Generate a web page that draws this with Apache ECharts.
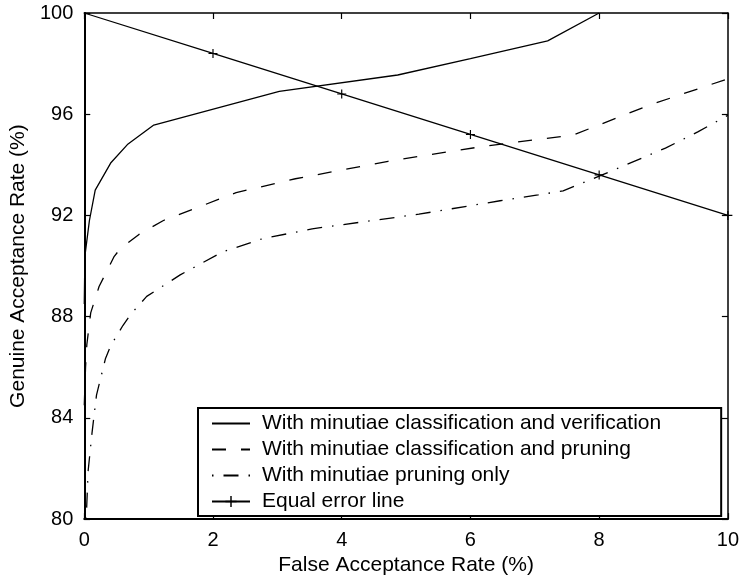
<!DOCTYPE html>
<html>
<head>
<meta charset="utf-8">
<script src="https://cdn.jsdelivr.net/npm/echarts@6/dist/echarts.min.js"></script>
<style>html,body{margin:0;padding:0;background:#fff}#c{width:742px;height:581px}</style>
</head>
<body>
<div id="c"></div>
<script>
// Data
var seriesNames = [
  'With minutiae classification and verification',
  'With minutiae classification and pruning',
  'With minutiae pruning only',
  'Equal error line'
];
var xTicks = [0, 2, 4, 6, 8, 10];
var yTicks = [80, 84, 88, 92, 96, 100];

var farVerif = [0, 0.01, 0.08, 0.17, 0.41, 0.67, 1.08, 3.03, 4.87, 6.0, 7.2, 8.0];
var garVerif = [88.5, 90.4, 91.8, 93.0, 94.07, 94.8, 95.57, 96.9, 97.55, 98.2, 98.9, 100];

var farPrune = [0, 0.02, 0.04, 0.1, 0.23, 0.46, 0.56, 0.85, 1.23, 2.36, 3.28, 4.72, 6.2, 7.6, 8.77, 10];
var garPrune = [84.5, 86.0, 86.9, 88.15, 89.19, 90.36, 90.69, 91.25, 91.8, 92.9, 93.45, 94.14, 94.73, 95.18, 96.35, 97.4];

var farOnly = [0.03, 0.06, 0.12, 0.19, 0.33, 0.41, 0.6, 0.72, 0.97, 1.49, 2.15, 2.77, 3.54, 5.2, 6.46, 7.05, 7.44, 8.0, 9.03, 9.54, 10];
var garOnly = [80.0, 81.9, 83.4, 84.9, 86.35, 86.85, 87.65, 88.09, 88.8, 89.65, 90.56, 91.08, 91.47, 92.05, 92.58, 92.81, 92.97, 93.55, 94.66, 95.31, 95.96];

var farEq = [0, 2, 4, 6, 8, 10];
var garEq = [100, 98.4, 96.8, 95.2, 93.6, 92];

function pairs(xs, ys) { return xs.map(function (x, i) { return [x, ys[i]]; }); }

var FONT = '"Liberation Sans", Arial, Helvetica, sans-serif';
var plusPath = 'path://M0,4.35H10V5.65H0Z M4.35,0H5.65V10H4.35Z';

var chart = echarts.init(document.getElementById('c'), null, { renderer: 'canvas' });

function xAxisDef(pos, showLabel, lw) {
  return {
    type: 'value', position: pos, min: xTicks[0], max: xTicks[xTicks.length - 1], interval: 2,
    axisLine: { show: true, onZero: false, lineStyle: { color: '#000', width: lw } },
    axisTick: { show: true, inside: true, length: 6, lineStyle: { color: '#000', width: 1.2 } },
    axisLabel: { show: showLabel, color: '#000', fontSize: 20, fontFamily: FONT, margin: 11 },
    splitLine: { show: false }
  };
}
function yAxisDef(pos, showLabel, lw) {
  return {
    type: 'value', position: pos, min: yTicks[0], max: yTicks[yTicks.length - 1], interval: 4,
    axisLine: { show: true, onZero: false, lineStyle: { color: '#000', width: lw } },
    axisTick: { show: true, inside: true, length: 6, lineStyle: { color: '#000', width: 1.2 } },
    axisLabel: { show: showLabel, color: '#000', fontSize: 20, fontFamily: FONT, margin: 11 },
    splitLine: { show: false }
  };
}

var xb = xAxisDef('bottom', true, 2);
xb.name = 'False Acceptance Rate (%)';
xb.nameLocation = 'middle';
xb.nameGap = 34;
xb.nameTextStyle = { color: '#000', fontSize: 21, fontFamily: FONT };
var yl = yAxisDef('left', true, 2);
yl.name = 'Genuine Acceptance Rate (%)';
yl.nameLocation = 'middle';
yl.nameGap = 43;
yl.nameTextStyle = { color: '#000', fontSize: 21, fontFamily: FONT };

var hidden = { color: 'rgba(0,0,0,0)', borderColor: 'rgba(0,0,0,0)', borderWidth: 0 };

var option = {
  animation: false,
  backgroundColor: '#fff',
  grid: { left: 80, right: 13, top: 13, bottom: 55, containLabel: false },
  xAxis: [xb, xAxisDef('top', false, 1.5)],
  yAxis: [yl, yAxisDef('right', false, 1.5)],
  legend: {
    show: true,
    orient: 'vertical',
    left: 198,
    top: 408,
    selectedMode: false,
    backgroundColor: '#fff',
    borderColor: '#000',
    borderWidth: 2,
    borderRadius: 0,
    padding: [5, 60, 4, 13],
    itemWidth: 38,
    itemHeight: 14,
    itemGap: 5,
    textStyle: { color: '#000', fontSize: 21, fontFamily: FONT, lineHeight: 20, padding: [0, 0, 0, 7] },
    data: [
      { name: seriesNames[0], itemStyle: hidden },
      { name: seriesNames[1], itemStyle: hidden },
      { name: seriesNames[2], itemStyle: hidden },
      { name: seriesNames[3] }
    ]
  },
  series: [
    {
      name: seriesNames[0], type: 'line', xAxisIndex: 0, yAxisIndex: 0,
      data: pairs(farVerif, garVerif), symbol: 'none', showSymbol: false,
      lineStyle: { color: '#000', width: 1.3, type: 'solid' }, itemStyle: { color: '#000' }
    },
    {
      name: seriesNames[1], type: 'line', xAxisIndex: 0, yAxisIndex: 0,
      data: pairs(farPrune, garPrune), symbol: 'none', showSymbol: false,
      lineStyle: { color: '#000', width: 1.3, type: [14, 15] }, itemStyle: { color: '#000' }
    },
    {
      name: seriesNames[2], type: 'line', xAxisIndex: 0, yAxisIndex: 0,
      data: pairs(farOnly, garOnly), symbol: 'none', showSymbol: false,
      lineStyle: { color: '#000', width: 1.3, type: [15, 10, 1.5, 10], dashOffset: 25 }, itemStyle: { color: '#000' }
    },
    {
      name: seriesNames[3], type: 'line', xAxisIndex: 0, yAxisIndex: 0, clip: false,
      data: pairs(farEq, garEq).map(function (p, i) {
        return i === 0 ? { value: p, symbol: 'none' } : { value: p };
      }),
      symbol: plusPath, symbolSize: 9, showSymbol: true, symbolKeepAspect: true,
      lineStyle: { color: '#000', width: 1.3, type: 'solid' },
      itemStyle: { color: '#000', borderWidth: 0 }
    }
  ]
};
chart.setOption(option);
</script>
</body>
</html>
